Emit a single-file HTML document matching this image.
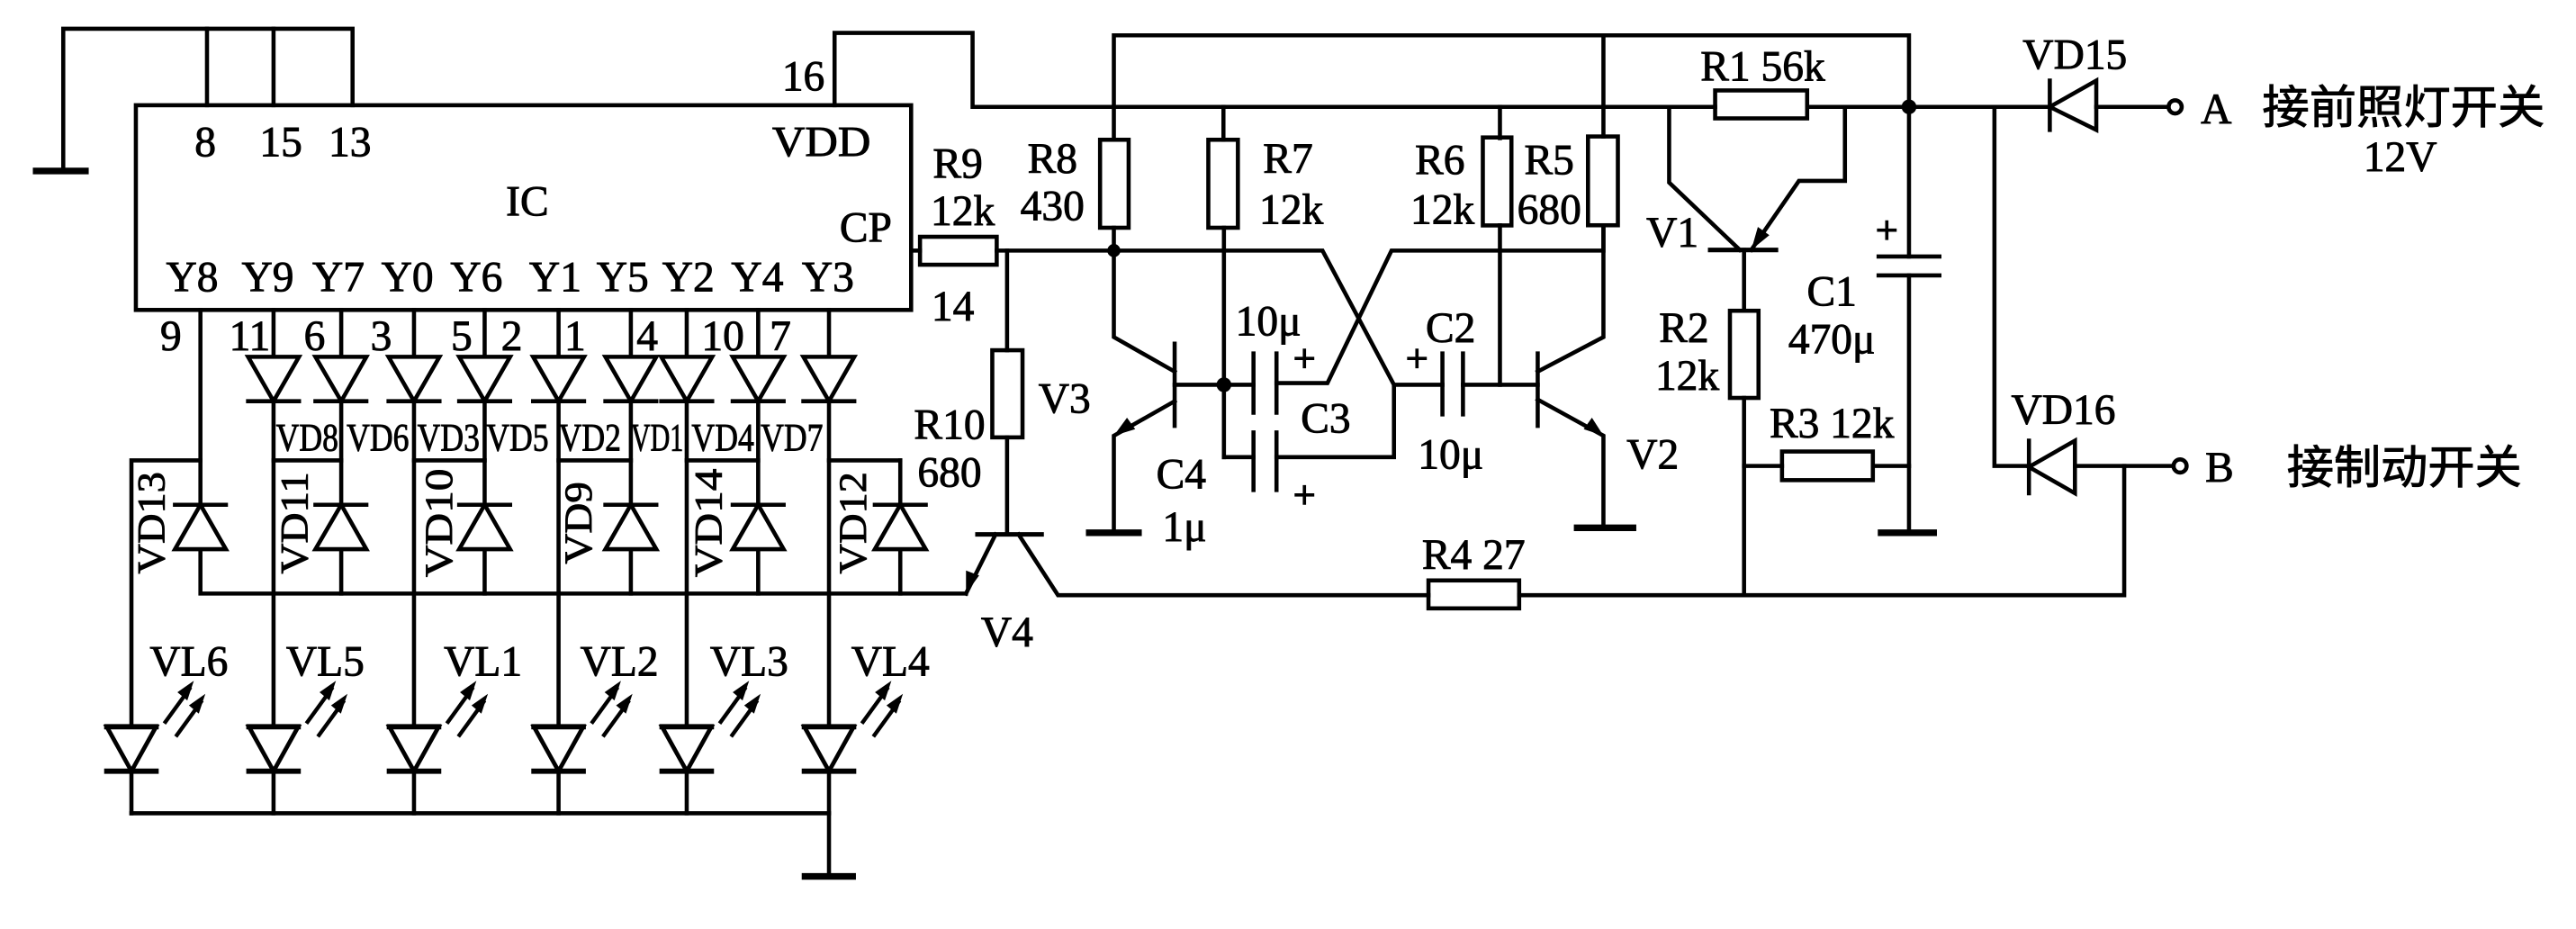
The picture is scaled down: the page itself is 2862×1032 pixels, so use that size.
<!DOCTYPE html>
<html><head><meta charset="utf-8"><style>
html,body{margin:0;padding:0;background:#fff;}
svg{display:block;}
text{font-family:"Liberation Serif","Noto Serif CJK SC",serif;fill:#000;stroke:#000;stroke-width:0.5;}
.c{font-family:"Liberation Serif","Noto Sans CJK SC",serif;}
</style></head><body>
<svg width="2862" height="1032" viewBox="0 0 1568 565" preserveAspectRatio="none" xmlns="http://www.w3.org/2000/svg">
<g fill="none" stroke="#000" stroke-width="2.5" stroke-linecap="square">
<polyline points="38.5,104 38.5,17.5 214.6,17.5 214.6,64"/>
<line x1="126" y1="17.5" x2="126" y2="64"/><line x1="166.5" y1="17.5" x2="166.5" y2="64"/>
<line x1="22" y1="104" x2="52" y2="104" stroke-width="4"/>
<rect x="82.7" y="64" width="471.9" height="124.5"/>
<polyline points="508,64 508,20 592,20 592,65 1044,65"/>
<rect x="1044" y="55" width="56" height="17"/>
<line x1="1100" y1="65" x2="1247" y2="65"/>
<line x1="1276" y1="65" x2="1320" y2="65"/>
<polyline points="678,85 678,21.5 1162,21.5 1162,65"/>
<line x1="976" y1="21.5" x2="976" y2="83"/>
<line x1="744.7" y1="65" x2="744.7" y2="85"/>
<line x1="913" y1="65" x2="913" y2="84"/>
<rect x="669.6" y="85" width="17.4" height="53.5"/>
<rect x="735.5" y="85" width="18" height="53.5"/>
<rect x="902.6" y="83.6" width="17.4" height="53.5"/>
<rect x="966.6" y="83" width="18.2" height="54"/>
<line x1="554.6" y1="152.4" x2="560" y2="152.4"/>
<rect x="560" y="144" width="46.7" height="17"/>
<polyline points="606.7,152.4 805,152.4 848.5,234 848.5,278 777,278"/>
<line x1="763" y1="278" x2="745" y2="278"/>
<polyline points="976,137 976,152.4 847,152.4 808,233 777,233"/>
<line x1="848.5" y1="234" x2="878" y2="234"/>
<line x1="890.5" y1="234" x2="936" y2="234"/>
<polyline points="678,138.5 678,205 715,226"/>
<line x1="715" y1="209" x2="715" y2="259"/>
<polyline points="715,244 678,265 678,324"/>
<line x1="663" y1="324" x2="693" y2="324" stroke-width="4"/>
<polyline points="745,138.5 745,278"/>
<line x1="715" y1="234" x2="763" y2="234"/>
<line x1="763" y1="215" x2="763" y2="251"/><line x1="777" y1="215" x2="777" y2="251"/>
<line x1="763" y1="263" x2="763" y2="298"/><line x1="777" y1="263" x2="777" y2="298"/>
<line x1="878" y1="215" x2="878" y2="252"/><line x1="890.5" y1="215" x2="890.5" y2="252"/>
<line x1="913" y1="137" x2="913" y2="234"/>
<line x1="936" y1="215" x2="936" y2="259"/>
<polyline points="936,226 976,205 976,137"/>
<polyline points="936,243 976,265 976,321"/>
<line x1="960" y1="321" x2="994" y2="321" stroke-width="4"/>
<line x1="613" y1="152.4" x2="613" y2="213"/>
<rect x="604" y="213" width="18.4" height="53"/>
<line x1="613" y1="266" x2="613" y2="325"/>
<line x1="595" y1="325" x2="634" y2="325" stroke-width="2.8"/>
<line x1="606" y1="325" x2="588" y2="361"/>
<polyline points="620,325 644,362 869.5,362"/>
<rect x="869.5" y="353" width="55.2" height="17"/>
<polyline points="924.7,362 1293,362 1293,283.4 1323,283.4"/>
<polyline points="1016,65 1016,111 1059,152"/>
<line x1="1041" y1="152" x2="1081" y2="152" stroke-width="2.8"/>
<polyline points="1066,152 1095,110 1123,110 1123,65"/>
<line x1="1061.6" y1="152" x2="1061.6" y2="189"/>
<rect x="1053" y="189" width="17.4" height="53"/>
<line x1="1061.6" y1="242" x2="1061.6" y2="362"/>
<line x1="1061.6" y1="283.4" x2="1084.7" y2="283.4"/>
<rect x="1084.7" y="274.6" width="55.3" height="17.4"/>
<line x1="1140" y1="283.4" x2="1162" y2="283.4"/>
<line x1="1162" y1="65" x2="1162" y2="156"/>
<line x1="1143.5" y1="156" x2="1180.5" y2="156"/>
<line x1="1143.5" y1="167.5" x2="1180.5" y2="167.5"/>
<line x1="1162" y1="167.5" x2="1162" y2="324"/>
<line x1="1145" y1="324" x2="1177" y2="324" stroke-width="4"/>
<polyline points="1214,65 1214,283.4 1235,283.4"/>
<line x1="1247.7" y1="49" x2="1247.7" y2="79"/>
<polygon points="1247.7,65 1276,49 1276,79"/>
<line x1="1235" y1="268" x2="1235" y2="300"/>
<polygon points="1235,284 1263,268 1263,300"/>
<line x1="1263" y1="283.4" x2="1293" y2="283.4"/>
<circle cx="1324" cy="65" r="4"/>
<circle cx="1327" cy="283.4" r="4"/>
<polyline points="122,188.5 122,361 588,361"/>
<polyline points="80,494.6 80,280 122,280"/>
<line x1="166.5" y1="188.5" x2="166.5" y2="494.6"/>
<line x1="207.7" y1="188.5" x2="207.7" y2="361"/>
<line x1="252" y1="188.5" x2="252" y2="494.6"/>
<line x1="295" y1="188.5" x2="295" y2="361"/>
<line x1="340" y1="188.5" x2="340" y2="494.6"/>
<line x1="384" y1="188.5" x2="384" y2="361"/>
<line x1="418" y1="188.5" x2="418" y2="494.6"/>
<line x1="461.5" y1="188.5" x2="461.5" y2="361"/>
<line x1="504.6" y1="188.5" x2="504.6" y2="533"/>
<line x1="548" y1="280" x2="548" y2="361"/>
<line x1="166.5" y1="280" x2="207.7" y2="280"/>
<line x1="252" y1="280" x2="295" y2="280"/>
<line x1="340" y1="280" x2="384" y2="280"/>
<line x1="418" y1="280" x2="461.5" y2="280"/>
<line x1="504.6" y1="280" x2="548" y2="280"/>
<line x1="80" y1="494.6" x2="504.6" y2="494.6"/>
<line x1="490" y1="533" x2="519" y2="533" stroke-width="4"/>
<g fill="#fff">
<polygon points="151,217 182,217 166.5,244"/><polygon points="192,217 223,217 207.7,244"/>
<polygon points="236.5,217 267.5,217 252,244"/><polygon points="279.5,217 310.5,217 295,244"/>
<polygon points="324.5,217 355.5,217 340,244"/><polygon points="368.5,217 399.5,217 384,244"/>
<polygon points="402.5,217 433.5,217 418,244"/><polygon points="446,217 477,217 461.5,244"/>
<polygon points="489,217 520,217 504.6,244"/>
</g>
<line x1="151" y1="244" x2="182" y2="244"/><line x1="192" y1="244" x2="223" y2="244"/>
<line x1="236.5" y1="244" x2="267.5" y2="244"/><line x1="279.5" y1="244" x2="310.5" y2="244"/>
<line x1="324.5" y1="244" x2="355.5" y2="244"/><line x1="368.5" y1="244" x2="399.5" y2="244"/>
<line x1="402.5" y1="244" x2="433.5" y2="244"/><line x1="446" y1="244" x2="477" y2="244"/>
<line x1="489" y1="244" x2="520" y2="244"/>
<g fill="#fff">
<polygon points="106.5,334 137.5,334 122,307"/><polygon points="192,334 223,334 207.7,307"/>
<polygon points="279.5,334 310.5,334 295,307"/><polygon points="368.5,334 399.5,334 384,307"/>
<polygon points="446,334 477,334 461.5,307"/><polygon points="532.5,334 563.5,334 548,307"/>
</g>
<line x1="106.5" y1="307" x2="137.5" y2="307"/><line x1="192" y1="307" x2="223" y2="307"/>
<line x1="279.5" y1="307" x2="310.5" y2="307"/><line x1="368.5" y1="307" x2="399.5" y2="307"/>
<line x1="446" y1="307" x2="477" y2="307"/><line x1="532.5" y1="307" x2="563.5" y2="307"/>
<g fill="#fff" stroke-width="2.6">
<polygon points="65,442 95,442 80,469"/><polygon points="151.5,442 181.5,442 166.5,469"/>
<polygon points="237,442 267,442 252,469"/><polygon points="325,442 355,442 340,469"/>
<polygon points="403,442 433,442 418,469"/><polygon points="489.6,442 519.6,442 504.6,469"/>
</g>
<g stroke-width="3.2">
<line x1="65" y1="469" x2="95" y2="469"/><line x1="151.5" y1="469" x2="181.5" y2="469"/>
<line x1="237" y1="469" x2="267" y2="469"/><line x1="325" y1="469" x2="355" y2="469"/>
<line x1="403" y1="469" x2="433" y2="469"/><line x1="489.6" y1="469" x2="519.6" y2="469"/>
<line x1="65" y1="442" x2="95" y2="442"/><line x1="151.5" y1="442" x2="181.5" y2="442"/>
<line x1="237" y1="442" x2="267" y2="442"/><line x1="325" y1="442" x2="355" y2="442"/>
<line x1="403" y1="442" x2="433" y2="442"/><line x1="489.6" y1="442" x2="519.6" y2="442"/>
</g>
</g>
<circle cx="678" cy="152.4" r="4"/><circle cx="745" cy="234" r="4.5"/><circle cx="1162" cy="65" r="4.5"/>
<polygon points="678,265 686,254 691,261"/>
<polygon points="976,265 964,261 969,254"/>
<polygon points="588,361 588,347 596,350"/>
<polygon points="1066,152 1070,138 1077,143"/>
<defs><g id="ar"><path d="M100,440 L116,418 M107,448 L123,426" stroke="#000" stroke-width="2.4" fill="none"/><polygon points="118,414 108,421 114,426"/><polygon points="125,422 115,429 121,434"/></g></defs>
<use href="#ar"/><use href="#ar" x="86.5"/><use href="#ar" x="172"/><use href="#ar" x="260"/><use href="#ar" x="338"/><use href="#ar" x="424.6"/>
<g stroke="#000" stroke-width="2">
<path d="M788,218h12M794,212v12M788,301h12M794,295v12M856.5,218h12M862.5,212v12M1142.5,140h12M1148.5,134v12"/>
</g>
<g font-size="26" text-anchor="middle">
<text x="125" y="95">8</text><text x="171" y="95">15</text><text x="213" y="95">13</text>
<text x="500" y="95" textLength="60" lengthAdjust="spacingAndGlyphs">VDD</text><text x="321" y="131">IC</text><text x="527" y="147">CP</text>
<text x="489" y="55">16</text>
<text x="117" y="177">Y8</text><text x="163" y="177">Y9</text><text x="206" y="177">Y7</text><text x="248" y="177">Y0</text><text x="290" y="177">Y6</text><text x="338" y="177">Y1</text><text x="379" y="177">Y5</text><text x="419" y="177">Y2</text><text x="461" y="177">Y4</text><text x="504" y="177">Y3</text>
<text x="104" y="213">9</text><text x="152" y="213">11</text><text x="191.5" y="213">6</text><text x="232" y="213">3</text><text x="281" y="213">5</text><text x="311.5" y="213">2</text><text x="350" y="213">1</text><text x="394" y="213">4</text><text x="440" y="213">10</text><text x="475" y="213">7</text>
<g font-size="24">
<text x="187" y="274" textLength="38" lengthAdjust="spacingAndGlyphs">VD8</text>
<text x="230" y="274" textLength="38" lengthAdjust="spacingAndGlyphs">VD6</text>
<text x="273" y="274" textLength="38" lengthAdjust="spacingAndGlyphs">VD3</text>
<text x="315" y="274" textLength="38" lengthAdjust="spacingAndGlyphs">VD5</text>
<text x="359" y="274" textLength="38" lengthAdjust="spacingAndGlyphs">VD2</text>
<text x="400" y="274" textLength="32" lengthAdjust="spacingAndGlyphs">VD1</text>
<text x="440" y="274" textLength="38" lengthAdjust="spacingAndGlyphs">VD4</text>
<text x="482" y="274" textLength="38" lengthAdjust="spacingAndGlyphs">VD7</text>
<text transform="translate(100,318) rotate(-90)" textLength="62" lengthAdjust="spacingAndGlyphs">VD13</text>
<text transform="translate(187,318) rotate(-90)" textLength="62" lengthAdjust="spacingAndGlyphs">VD11</text>
<text transform="translate(275,318) rotate(-90)" textLength="66" lengthAdjust="spacingAndGlyphs">VD10</text>
<text transform="translate(360,318) rotate(-90)" textLength="50" lengthAdjust="spacingAndGlyphs">VD9</text>
<text transform="translate(439,318) rotate(-90)" textLength="66" lengthAdjust="spacingAndGlyphs">VD14</text>
<text transform="translate(527,318) rotate(-90)" textLength="62" lengthAdjust="spacingAndGlyphs">VD12</text>
</g>
<text x="115" y="411">VL6</text><text x="198" y="411">VL5</text><text x="294" y="411">VL1</text><text x="377" y="411">VL2</text><text x="456" y="411">VL3</text><text x="542" y="411">VL4</text>
<text x="583" y="108">R9</text><text x="586" y="137">12k</text><text x="580" y="195">14</text>
<text x="640.6" y="105">R8</text><text x="640.6" y="134">430</text>
<text x="784" y="105">R7</text><text x="786" y="136">12k</text>
<text x="876.5" y="106">R6</text><text x="878" y="136">12k</text>
<text x="943" y="106">R5</text><text x="943" y="136">680</text>
<text x="772" y="204">10μ</text><text x="807" y="263">C3</text>
<text x="719" y="297">C4</text><text x="721" y="329">1μ</text>
<text x="883" y="208">C2</text><text x="883" y="285">10μ</text>
<text x="1006" y="285">V2</text><text x="648" y="251">V3</text>
<text x="578" y="267">R10</text><text x="578" y="296">680</text>
<text x="613" y="393">V4</text><text x="897" y="346">R4 27</text>
<text x="1073" y="49">R1 56k</text>
<text x="1018" y="150">V1</text><text x="1025" y="208">R2</text><text x="1027" y="237">12k</text>
<text x="1115" y="186">C1</text><text x="1115" y="215">470μ</text>
<text x="1115" y="266">R3 12k</text>
<text x="1263" y="42">VD15</text><text x="1256" y="258">VD16</text>
<text x="1349" y="75">A</text><text x="1461" y="104">12V</text>
<text x="1351" y="293">B</text>
</g>
<g font-size="28">
<text x="1377" y="75" textLength="172" lengthAdjust="spacingAndGlyphs" class="c">接前照灯开关</text>
<text x="1392" y="294" textLength="143" lengthAdjust="spacingAndGlyphs" class="c">接制动开关</text>
</g>
</svg>
</body></html>
